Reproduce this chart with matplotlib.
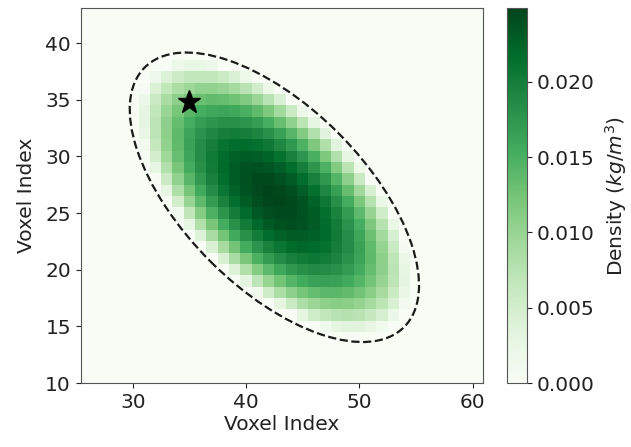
import numpy as np
import matplotlib
matplotlib.use("Agg")
import matplotlib.pyplot as plt
from matplotlib.patches import Ellipse

# --- values ---
center_x, center_y = 42.5, 26.4      # density centre (voxel index)
semi_major, semi_minor = 16.2, 8.0   # dashed ellipse semi-axes (voxels)
angle_deg = -45.0                    # ellipse orientation
peak_density = 0.0249                # kg/m^3 at the centre
support_frac = 0.94                  # density is zero outside this fraction of the ellipse
falloff_power = 0.85                 # shape of the radial fall-off
star_x, star_y = 35.0, 34.8          # marked voxel
x_range = (20, 66)
y_range = (5, 49)
cbar_ticks = [0.000, 0.005, 0.010, 0.015, 0.020]

FS = 14.5

# --- voxel grid ---
xs = np.arange(*x_range)
ys = np.arange(*y_range)
X, Y = np.meshgrid(xs, ys)
th = np.deg2rad(angle_deg)
dx, dy = X - center_x, Y - center_y
u = dx * np.cos(th) + dy * np.sin(th)
v = -dx * np.sin(th) + dy * np.cos(th)
r2 = (u / (semi_major * support_frac)) ** 2 + (v / (semi_minor * support_frac)) ** 2
density = peak_density * np.clip(1 - r2, 0, None) ** falloff_power

fig = plt.figure(figsize=(6.31, 4.47), dpi=100)
ax = fig.add_axes([0.128, 0.143, 0.637, 0.839])
cax = fig.add_axes([0.8035, 0.143, 0.0317, 0.839])

xe = np.append(xs - 0.5, xs[-1] + 0.5)
ye = np.append(ys - 0.5, ys[-1] + 0.5)
mesh = ax.pcolormesh(xe, ye, density, cmap="Greens", vmin=0, vmax=peak_density)
ax.add_patch(Ellipse((center_x, center_y), 2 * semi_major, 2 * semi_minor,
                     angle=angle_deg, fill=False, ls="--", lw=1.6, color="#1a1a1a"))
ax.plot([star_x], [star_y], marker="*", color="black", markersize=17, ls="none")

ax.set_xlim(25.4, 60.9)
ax.set_ylim(10, 43.1)
ax.set_aspect("auto")
ax.set_xticks([30, 40, 50, 60])
ax.set_yticks([10, 15, 20, 25, 30, 35, 40])
ax.tick_params(labelsize=FS, colors="#222222", labelcolor="#222222")
ax.set_xlabel("Voxel Index", fontsize=FS, color="#222222", labelpad=2)
ax.set_ylabel("Voxel Index", fontsize=FS, color="#222222", labelpad=7)
for s in ax.spines.values():
    s.set_color("#555555")

cb = fig.colorbar(mesh, cax=cax, ticks=cbar_ticks)
cb.ax.set_yticklabels([f"{t:.3f}" for t in cbar_ticks])
cb.ax.tick_params(labelsize=FS, colors="#222222", labelcolor="#222222")
cb.outline.set_edgecolor("#555555")
cb.set_label("Density ($kg/m^3$)", fontsize=FS, color="#222222", labelpad=6)

fig.savefig("out.png", dpi=100)
